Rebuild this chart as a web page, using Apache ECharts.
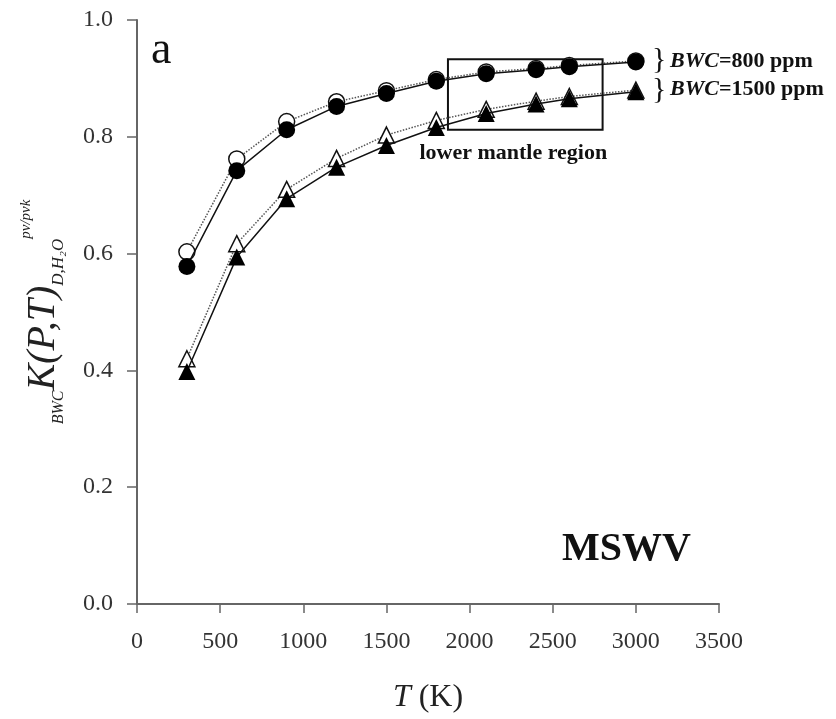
<!DOCTYPE html>
<html>
<head>
<meta charset="utf-8">
<script src="https://cdn.jsdelivr.net/npm/echarts@6/dist/echarts.min.js"></script>
<style>
  html, body { margin: 0; padding: 0; background: #fff; }
  #chart { width: 836px; height: 719px; }
</style>
</head>
<body>
<div id="chart"></div>
<script>
// temperatures (K)
const temps = [300, 600, 900, 1200, 1500, 1800, 2100, 2400, 2600, 3000];

// BWC = 800 ppm
const filled800 = [0.578, 0.742, 0.812, 0.852, 0.874, 0.895, 0.908, 0.915, 0.920, 0.928];
const open800 = [0.603, 0.762, 0.826, 0.860, 0.879, 0.898, 0.911, 0.917, 0.922, 0.930];

// BWC = 1500 ppm
const filled1500 = [0.398, 0.594, 0.694, 0.748, 0.785, 0.816, 0.840, 0.856, 0.865, 0.877];
const open1500 = [0.420, 0.617, 0.710, 0.763, 0.803, 0.828, 0.847, 0.861, 0.869, 0.880];

const xTicks = [0, 500, 1000, 1500, 2000, 2500, 3000, 3500];
const yTicks = [0.0, 0.2, 0.4, 0.6, 0.8, 1.0];

// lower mantle box corners [T, K]
const boxStart = [1870, 0.933];
const boxEnd = [2800, 0.812];

const pairs = (vals) => temps.map((t, i) => [t, vals[i]]);

const serif = "Liberation Serif";

const chart = echarts.init(document.getElementById("chart"));

const legendRich = {
  i: { fontFamily: serif, fontSize: 22, fontStyle: "italic", fontWeight: "bold", fill: "#111" },
  b: { fontFamily: serif, fontSize: 22, fontWeight: "bold", fill: "#111" },
};

const option = {
  backgroundColor: "#fff",
  animation: false,
  textStyle: { fontFamily: serif },
  grid: { left: 137, right: 117, top: 20, bottom: 115 },
  xAxis: {
    type: "value",
    min: xTicks[0],
    max: xTicks[xTicks.length - 1],
    interval: 500,
    name: "{i|T} (K)",
    nameLocation: "middle",
    nameGap: 78,
    nameTextStyle: {
      fontFamily: serif,
      fontSize: 32,
      color: "#222",
      rich: { i: { fontFamily: serif, fontSize: 32, fontStyle: "italic", color: "#222" } },
    },
    axisLine: { lineStyle: { color: "#666", width: 2 } },
    axisTick: { length: 9, lineStyle: { color: "#666", width: 1.5 } },
    axisLabel: { fontFamily: serif, fontSize: 24, color: "#333", margin: 26, formatter: (v) => String(v) },
    splitLine: { show: false },
  },
  yAxis: {
    type: "value",
    min: yTicks[0],
    max: yTicks[yTicks.length - 1],
    interval: 0.2,
    name: "{s|BWC}{k|K(P,T)}{d|D,H₂O}{p|pv/pvk}",
    nameLocation: "middle",
    nameRotate: 90,
    nameGap: 70,
    nameTextStyle: {
      fontFamily: serif,
      color: "#222",
      rich: {
        s: { fontFamily: serif, fontSize: 16, fontStyle: "italic", verticalAlign: "bottom", lineHeight: 48, color: "#222" },
        k: { fontFamily: serif, fontSize: 40, fontStyle: "italic", lineHeight: 48, color: "#222" },
        d: { fontFamily: serif, fontSize: 17, fontStyle: "italic", verticalAlign: "bottom", lineHeight: 48, color: "#222" },
        p: { fontFamily: serif, fontSize: 15, fontStyle: "italic", verticalAlign: "top", lineHeight: 48, color: "#222" },
      },
    },
    axisLine: { show: true, lineStyle: { color: "#666", width: 2 } },
    axisTick: { show: true, length: 10, lineStyle: { color: "#666", width: 1.5 } },
    axisLabel: {
      fontFamily: serif,
      fontSize: 24,
      color: "#333",
      margin: 24,
      formatter: (v) => v.toFixed(1),
    },
    splitLine: { show: false },
  },
  series: [
    {
      name: "open 800",
      type: "line",
      data: pairs(open800),
      symbol: "circle",
      symbolSize: 16,
      itemStyle: { color: "#fff", borderColor: "#111", borderWidth: 1.5 },
      lineStyle: { color: "#555", width: 1.5, type: "dotted" },
      z: 2,
    },
    {
      name: "open 1500",
      type: "line",
      data: pairs(open1500),
      symbol: "triangle",
      symbolSize: 16,
      itemStyle: { color: "#fff", borderColor: "#111", borderWidth: 1.5 },
      lineStyle: { color: "#555", width: 1.5, type: "dotted" },
      z: 2,
    },
    {
      name: "filled 800",
      type: "line",
      data: pairs(filled800),
      symbol: "circle",
      symbolSize: 17,
      itemStyle: { color: "#000" },
      lineStyle: { color: "#111", width: 1.5 },
      z: 3,
      markArea: {
        silent: true,
        itemStyle: { color: "rgba(0,0,0,0)", borderColor: "#111", borderWidth: 2 },
        label: {
          show: true,
          position: "bottom",
          distance: 12,
          offset: [-12, 0],
          fontFamily: serif,
          fontSize: 22,
          fontWeight: "bold",
          color: "#111",
        },
        data: [[{ name: "lower mantle region", coord: boxStart }, { coord: boxEnd }]],
      },
    },
    {
      name: "filled 1500",
      type: "line",
      data: pairs(filled1500),
      symbol: "triangle",
      symbolSize: 17,
      itemStyle: { color: "#000" },
      lineStyle: { color: "#111", width: 1.5 },
      z: 3,
    },
  ],
  graphic: [
    {
      type: "text",
      left: 151,
      top: 28,
      style: { text: "a", font: "46px " + serif, fill: "#111" },
    },
    {
      type: "text",
      left: 562,
      top: 530,
      style: { text: "MSWV", font: "bold 40px " + serif, fill: "#111" },
    },
    {
      type: "text",
      left: 652,
      top: 45,
      style: { text: "}", font: "30px " + serif, fill: "#111" },
    },
    {
      type: "text",
      left: 652,
      top: 75,
      style: { text: "}", font: "30px " + serif, fill: "#111" },
    },
    {
      type: "text",
      left: 670,
      top: 50,
      style: { text: "{i|BWC}{b|=800 ppm}", rich: legendRich },
    },
    {
      type: "text",
      left: 670,
      top: 78,
      style: { text: "{i|BWC}{b|=1500 ppm}", rich: legendRich },
    },
  ],
};

chart.setOption(option);
</script>
</body>
</html>
